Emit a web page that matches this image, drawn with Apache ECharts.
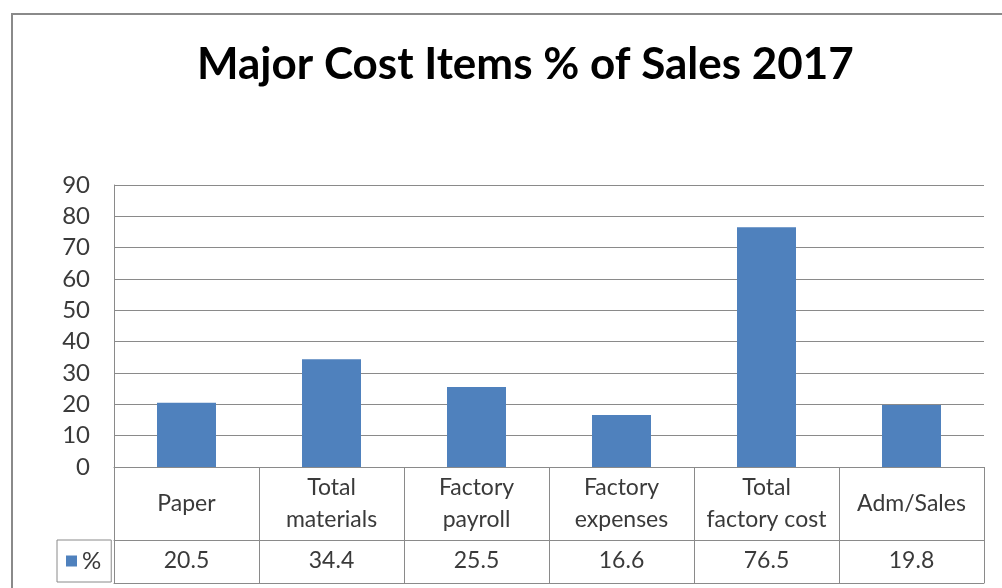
<!DOCTYPE html>
<html>
<head>
<meta charset="utf-8">
<script src="https://cdn.jsdelivr.net/npm/echarts@6/dist/echarts.min.js"></script>
<style>
html,body{margin:0;padding:0;background:#fff;}
#chart{width:1002px;height:588px;}
</style>
</head>
<body>
<div id="chart"></div>
<script>
var categories = ['Paper', 'Total\nmaterials', 'Factory\npayroll', 'Factory\nexpenses', 'Total\nfactory cost', 'Adm/Sales'];
var values = [20.5, 34.4, 25.5, 16.6, 76.5, 19.8];
var valueLabels = ['20.5', '34.4', '25.5', '16.6', '76.5', '19.8'];
var seriesName = '%';
var titleText = 'Major Cost Items % of Sales 2017';

var lineColor = '#8a8a8a';
var textColor = '#3a3a3a';
var font = 'Lato';

var chart = echarts.init(document.getElementById('chart'));
chart.setOption({
  animation: false,
  backgroundColor: '#fff',
  title: {
    text: titleText,
    left: 192,
    top: 38,
    textStyle: {fontFamily: font, fontWeight: 'bold', fontSize: 44, color: '#000'}
  },
  graphic: [{
    type: 'rect',
    shape: {x: 12, y: 14, width: 1000, height: 600},
    style: {fill: 'none', stroke: '#8a8a8a', lineWidth: 2},
    silent: true
  }],
  legend: {
    data: [seriesName],
    left: 57,
    top: 540,
    icon: 'rect',
    itemWidth: 11,
    itemHeight: 11,
    padding: [9, 10, 9, 9],
    borderColor: lineColor,
    borderWidth: 1,
    textStyle: {fontFamily: font, fontSize: 24, color: textColor}
  },
  grid: {left: 114, right: 18, top: 185, bottom: 121},
  yAxis: {
    type: 'value',
    min: 0, max: 90, interval: 10,
    axisLine: {show: true, lineStyle: {color: lineColor}},
    axisTick: {show: false},
    splitLine: {lineStyle: {color: lineColor}},
    axisLabel: {fontFamily: font, fontSize: 24, color: textColor, margin: 24}
  },
  xAxis: [{
    type: 'category',
    data: categories,
    position: 'bottom',
    axisLine: {show: true, lineStyle: {color: lineColor}},
    axisTick: {show: true, length: 73, lineStyle: {color: lineColor}},
    axisLabel: {fontFamily: font, fontSize: 23, lineHeight: 32, color: textColor, interval: 0, verticalAlign: 'middle', margin: 37}
  }, {
    type: 'category',
    data: categories,
    position: 'bottom',
    offset: 73,
    axisLine: {show: true, lineStyle: {color: lineColor}},
    axisTick: {show: true, length: 43, lineStyle: {color: lineColor}},
    axisLabel: {
      fontFamily: font, fontSize: 23, color: textColor, interval: 0, verticalAlign: 'middle', margin: 21,
      formatter: function (v, i) { return valueLabels[i]; }
    }
  }, {
    type: 'category',
    data: categories,
    position: 'bottom',
    offset: 116,
    axisLine: {show: true, lineStyle: {color: lineColor}},
    axisTick: {show: false},
    axisLabel: {show: false}
  }],
  series: [{
    name: seriesName,
    type: 'bar',
    xAxisIndex: 0,
    data: values,
    barWidth: 59,
    itemStyle: {color: '#4F81BD'}
  }]
});
</script>
</body>
</html>
